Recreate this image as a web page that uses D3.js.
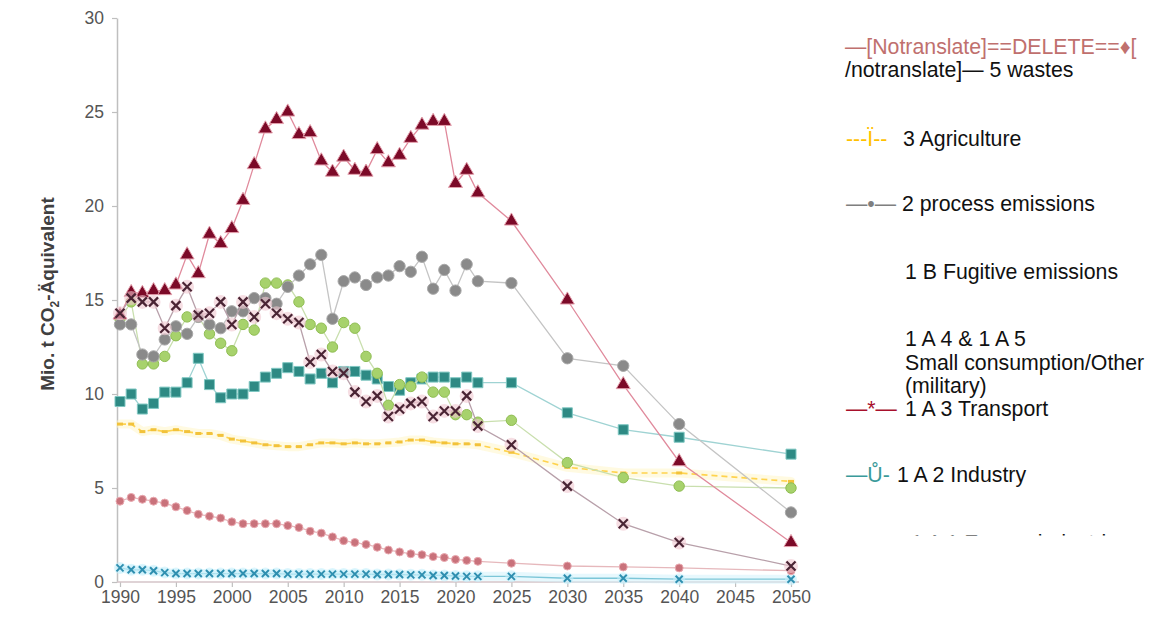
<!DOCTYPE html>
<html>
<head>
<meta charset="utf-8">
<script src="https://cdn.jsdelivr.net/npm/d3@7"></script>
<style>
  body { margin: 0; background: #fff; }
  svg { display: block; font-family: "Liberation Sans", Arial, Helvetica, sans-serif; }
</style>
</head>
<body>
<svg id="chart" width="1154" height="620"></svg>
<script>
// ---- data (Mio. t CO2-equivalent) ----
const years = [1990,1991,1992,1993,1994,1995,1996,1997,1998,1999,
               2000,2001,2002,2003,2004,2005,2006,2007,2008,2009,
               2010,2011,2012,2013,2014,2015,2016,2017,2018,2019,
               2020,2021,2022,2025,2030,2035,2040,2050];

const xTickYears = [1990,1995,2000,2005,2010,2015,2020,2025,2030,2035,2040,2045,2050];
const yTickValues = [0,5,10,15,20,25,30];

// 1 A 3 Transport
const transport = [14.2,15.4,15.35,15.5,15.5,15.8,17.4,16.4,18.5,18.0,
                   18.8,20.3,22.2,24.1,24.6,25.0,23.8,23.9,22.4,21.8,
                   22.6,21.9,21.8,23.0,22.3,22.7,23.6,24.3,24.5,24.5,
                   21.2,21.9,20.7,19.2,15.0,10.5,6.4,2.1];
// 1 A 1 Energy industries
const energy = [14.3,15.1,14.9,14.9,13.5,14.7,15.7,14.2,14.3,14.9,
                13.7,14.9,14.1,14.8,14.3,14.0,13.8,11.7,12.1,11.2,
                11.1,10.1,9.6,9.9,8.8,9.2,9.5,9.6,8.8,9.1,
                9.1,9.9,8.3,7.3,5.1,3.1,2.1,0.85];
// 2 process emissions
const process = [13.7,13.7,12.1,12.0,12.9,13.6,13.2,14.1,13.7,13.5,
                 14.4,14.4,15.1,15.1,14.8,15.7,16.3,16.9,17.4,14.0,
                 16.0,16.2,15.8,16.2,16.3,16.8,16.5,17.3,15.6,16.6,
                 15.5,16.9,16.0,15.9,11.9,11.5,8.4,3.7];
// 1 A 4 & 1 A 5 Small consumption / Other (military)
const smallConsumption = [14.0,14.9,11.6,11.6,12.0,13.1,14.1,14.1,13.2,12.7,
                          12.3,13.7,13.4,15.9,15.9,15.8,14.9,13.7,13.5,12.5,
                          13.8,13.5,12.0,11.1,9.4,10.5,10.4,10.9,10.1,10.1,
                          8.9,8.9,8.5,8.6,6.35,5.55,5.1,5.0];
// 1 A 2 Industry
const industry = [9.6,10.0,9.2,9.5,10.1,10.1,10.6,11.9,10.5,9.8,
                  10.0,10.0,10.4,10.9,11.1,11.4,11.2,10.8,11.1,10.6,
                  11.2,11.2,11.0,10.8,10.4,10.2,10.6,10.8,10.9,10.9,
                  10.6,10.9,10.6,10.6,9.0,8.1,7.7,6.8];
// 3 Agriculture
const agriculture = [8.4,8.4,8.0,8.1,8.0,8.1,8.0,7.9,7.9,7.8,
                     7.6,7.5,7.4,7.3,7.25,7.2,7.2,7.3,7.4,7.4,
                     7.35,7.4,7.35,7.35,7.4,7.45,7.55,7.55,7.45,7.4,
                     7.35,7.35,7.3,6.9,6.1,5.8,5.8,5.35];
// 5 wastes
const wastes = [4.3,4.5,4.4,4.3,4.2,4.0,3.8,3.6,3.5,3.4,
                3.2,3.1,3.1,3.1,3.1,3.0,2.9,2.7,2.6,2.4,
                2.2,2.1,2.0,1.85,1.7,1.6,1.5,1.45,1.35,1.3,
                1.2,1.15,1.1,1.0,0.85,0.8,0.75,0.6];
// 1 B Fugitive emissions
const fugitive = [0.75,0.65,0.65,0.6,0.5,0.45,0.45,0.45,0.45,0.45,
                  0.45,0.45,0.45,0.45,0.45,0.42,0.42,0.42,0.42,0.42,
                  0.42,0.42,0.42,0.4,0.4,0.4,0.38,0.38,0.35,0.35,
                  0.32,0.3,0.3,0.3,0.2,0.2,0.15,0.15];

const yAxisTitle = ["Mio. t CO", "2", "-Äquivalent"];

// legend rows: coloured symbol text + label text
const legendRows = [
  { sym: "—[Notranslate]==DELETE==♦[", label: "" },
  { sym: "", label: "/notranslate]— 5 wastes" },
  { sym: "---Ï--", label: "3 Agriculture" },
  { sym: "—•—", label: "2 process emissions" },
  { sym: "", label: "1 B Fugitive emissions" },
  { sym: "", label: "1 A 4 & 1 A 5" },
  { sym: "", label: "Small consumption/Other" },
  { sym: "", label: "(military)" },
  { sym: "—*—", label: "1 A 3 Transport" },
  { sym: "—Ů-", label: "1 A 2 Industry" },
  { sym: "—x—", label: "1 A 1 Energy industries" }
];

// ---- drawing ----
const svg = d3.select("#chart");
const W = 1154, H = 620;

const x = d3.scaleLinear().domain([1990, 2050]).range([120, 791]);
const y = d3.scaleLinear().domain([0, 30]).range([582, 18]);
const axisX0 = 117;

const axisColor = "#bfbfbf";
const tickText = "#555555";

// y axis
const gy = svg.append("g").attr("transform", `translate(${axisX0},0)`)
  .call(d3.axisLeft(y).tickValues(yTickValues).tickSize(5).tickSizeOuter(0).tickPadding(8));
gy.select(".domain").attr("stroke", axisColor).attr("stroke-width", 1.5);
gy.selectAll(".tick line").attr("stroke", axisColor).attr("stroke-width", 1.2);
gy.selectAll(".tick text").attr("fill", tickText).attr("font-size", 17.5)
  .attr("font-family", "'Liberation Sans', Arial, sans-serif");

// x axis
const gx = svg.append("g").attr("transform", `translate(0,${y(0)})`)
  .call(d3.axisBottom(x).tickValues(xTickYears).tickFormat(d3.format("d"))
        .tickSize(5).tickSizeOuter(0).tickPadding(4));
gx.select(".domain").remove();
gx.selectAll(".tick line").attr("stroke", axisColor).attr("stroke-width", 1.2);
gx.selectAll(".tick text").attr("fill", tickText).attr("font-size", 17.5)
  .attr("font-family", "'Liberation Sans', Arial, sans-serif");
svg.append("line")
  .attr("x1", axisX0).attr("x2", x(2050) + 8)
  .attr("y1", y(0)).attr("y2", y(0))
  .attr("stroke", "#d4c4c8").attr("stroke-width", 1.5);

// y axis title
const yt = svg.append("text")
  .attr("transform", `translate(54,${(y(0) + y(30)) / 2 - 6}) rotate(-90)`)
  .attr("text-anchor", "middle")
  .attr("font-weight", "bold")
  .attr("font-size", 19)
  .attr("fill", "#404040");
yt.append("tspan").text(yAxisTitle[0]);
yt.append("tspan").attr("font-size", 12).attr("dy", 5).text(yAxisTitle[1]);
yt.append("tspan").attr("dy", -5).text(yAxisTitle[2]);

// series
const plot = svg.append("g");

function pts(values) { return years.map((yr, i) => [yr, values[i]]); }

function drawLine(values, stroke, width, dash, halo) {
  const line = d3.line().x(d => x(d[0])).y(d => y(d[1]));
  if (halo) {
    plot.append("path").attr("d", line(pts(values)))
      .attr("fill", "none").attr("stroke", halo).attr("stroke-width", 9)
      .attr("stroke-linecap", "round").attr("stroke-linejoin", "round").attr("opacity", 0.55);
  }
  plot.append("path").attr("d", line(pts(values)))
    .attr("fill", "none").attr("stroke", stroke).attr("stroke-width", width)
    .attr("stroke-dasharray", dash || null);
}

function drawSymbols(values, type, size, fill, stroke, sw) {
  plot.append("g").selectAll("path").data(pts(values)).join("path")
    .attr("transform", d => `translate(${x(d[0])},${y(d[1])})`)
    .attr("d", d3.symbol().type(type).size(size))
    .attr("fill", fill).attr("stroke", stroke || "none").attr("stroke-width", sw || 0);
}

function drawCrosses(values, r, stroke, sw, halo) {
  const g = plot.append("g");
  const p = `M${-r},${-r}L${r},${r}M${-r},${r}L${r},${-r}`;
  if (halo) {
    g.selectAll("circle").data(pts(values)).join("circle")
      .attr("cx", d => x(d[0])).attr("cy", d => y(d[1])).attr("r", r + 2.5)
      .attr("fill", halo).attr("opacity", 0.6);
  }
  g.selectAll("path").data(pts(values)).join("path")
    .attr("transform", d => `translate(${x(d[0])},${y(d[1])})`)
    .attr("d", p).attr("stroke", stroke).attr("stroke-width", sw).attr("fill", "none");
}

function drawDashes(values, w, h, fill) {
  plot.append("g").selectAll("rect").data(pts(values)).join("rect")
    .attr("x", d => x(d[0]) - w / 2).attr("y", d => y(d[1]) - h / 2)
    .attr("width", w).attr("height", h).attr("fill", fill);
}

// 1 B Fugitive emissions
drawLine(fugitive, "#7cc6d8", 1.3, null, "#d4f3fb");
drawCrosses(fugitive, 3.5, "#2f8fb0", 2, "#c6f0fb");

// 5 wastes
drawLine(wastes, "#e6b8bc", 1.3);
drawSymbols(wastes, d3.symbolCircle, 50, "#c9727b", "#e9a9b0", 1);

// 3 Agriculture
drawLine(agriculture, "#ffd34d", 1.6, "6,4", "#fff5c8");
drawDashes(agriculture, 6, 3, "#f2c23a");

// 1 A 2 Industry
drawLine(industry, "#9fd3d3", 1.3);
drawSymbols(industry, d3.symbolSquare, 100, "#2e8a84", "#7fc7c2", 1);

// 1 A 4 & 1 A 5
drawLine(smallConsumption, "#c9dfae", 1.3);
drawSymbols(smallConsumption, d3.symbolCircle, 85, "#a7d26c", "#8fbd52", 1);

// 2 process emissions
drawLine(process, "#c4c4c4", 1.3);
drawSymbols(process, d3.symbolCircle, 100, "#8a8a8a", "#a8a8a8", 1);

// 1 A 3 Transport
drawLine(transport, "#e08a9c", 1.3);
drawSymbols(transport, d3.symbolTriangle, 85, "#7c0a28", "#e4a0ad", 1);

// 1 A 1 Energy industries
drawLine(energy, "#b8a0aa", 1.3);
drawCrosses(energy, 4.5, "#4a2434", 2.2, "#f0c8d0");

// ---- legend ----
const legendFont = 21.3;
const symColors = ["#c0706e", null, "#ffc000", "#7f7f7f", null, null, null, null, "#a8102c", "#3a9a9a", "#4a2434"];
const rowY = [54, 77, 146, 211, 279, 346, 370, 393, 416, 481.5, 550];
const rowX = [845, 845, 846, 846, 905, 905, 905, 905, 846, 846, 848];
const labelX = [null, null, 903, 902, 905, 905, 905, 905, 905, 897, 911];

// the bottom legend row is cut off by the legend box
svg.append("clipPath").attr("id", "legendClip")
  .append("rect").attr("x", 820).attr("y", 0).attr("width", W - 820).attr("height", 535.5);

const lg = svg.append("g").attr("clip-path", "url(#legendClip)")
  .attr("font-size", legendFont).attr("fill", "#111");

legendRows.forEach((row, i) => {
  if (row.sym) {
    lg.append("text").attr("x", rowX[i]).attr("y", rowY[i])
      .attr("fill", symColors[i]).text(row.sym);
  }
  if (row.label) {
    const lx = row.sym ? labelX[i] : rowX[i];
    lg.append("text").attr("x", lx).attr("y", rowY[i]).text(row.label);
  }
});
</script>
</body>
</html>
